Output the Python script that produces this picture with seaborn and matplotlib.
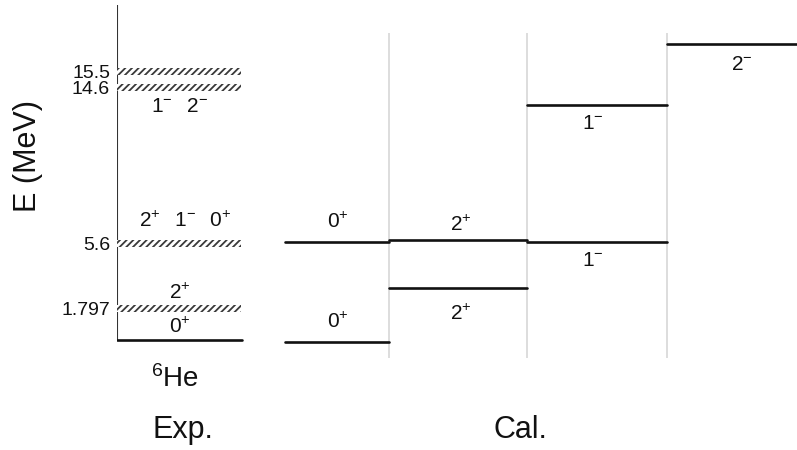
import matplotlib
matplotlib.use("Agg")
import matplotlib.pyplot as plt
import numpy as np
import pandas as pd
import seaborn as sns

# ---- level data (MeV) ----
exp_energy = [0.0, 1.797, 5.6, 14.6, 15.5]
exp_label = [r"$\mathregular{0^{+}}$", r"$\mathregular{2^{+}}$",
             r"$\mathregular{2^{+}\;\;\;1^{-}\;\;\;0^{+}}$",
             r"$\mathregular{1^{-}\;\;\;2^{-}}$", ""]
exp_resonance = [False, True, True, True, True]
exp_ticks = ["1.797", "5.6", "14.6", "15.5"]

calc_column = ["A", "A", "B", "B", "C", "C", "D"]
calc_energy = [-0.12, 5.66, 5.78, 3.0, 13.58, 5.66, 17.1]
calc_label = [r"$\mathregular{0^{+}}$", r"$\mathregular{0^{+}}$",
              r"$\mathregular{2^{+}}$", r"$\mathregular{2^{+}}$",
              r"$\mathregular{1^{-}}$", r"$\mathregular{1^{-}}$",
              r"$\mathregular{2^{-}}$"]

# ---- layout ----
W, H = 797, 450
PX_PER_MEV = 17.3
Y_ZERO = 340          # pixel row of E = 0
def e_of(ypx):
    return (Y_ZERO - ypx) / PX_PER_MEV

col_span = {"E": (0, 125), "A": (168, 272), "B": (272, 410),
            "C": (410, 550), "D": (550, 680)}
col_center = {"E": 63, "A": 221, "B": 344, "C": 476, "D": 625}
# label offsets in pixels (positive = above the level)
exp_label_dy = [13, 16, 22, -19, 0]
exp_label_dx = [0, 0, 5, 0, 0]
calc_label_dy = [20, 20, 15, -26, -18, -18, -20]

sns.set_theme(style="white")
plt.rcParams["font.family"] = ["Liberation Sans", "DejaVu Sans"]
plt.rcParams["mathtext.fontset"] = "custom"
plt.rcParams["mathtext.rm"] = "Liberation Sans"
plt.rcParams["mathtext.it"] = "Liberation Sans:italic"
plt.rcParams["mathtext.bf"] = "Liberation Sans:bold"
plt.rcParams["hatch.linewidth"] = 1.3

fig = plt.figure(figsize=(W / 100, H / 100), dpi=100)
ax = fig.add_axes([117 / W, 1 - 360 / H, 680 / W, 355 / H])
ax.set_xlim(0, 680)
ax.set_ylim(e_of(360), e_of(5))
for s in ax.spines.values():
    s.set_visible(False)

# column separators
ax.vlines([col_span["A"][1], col_span["B"][1], col_span["C"][1]],
          e_of(358), e_of(33), color="#dadada", lw=1.3, zorder=0)

# energy axis
ax.vlines(0, 0, e_of(5), color="#333333", lw=1.5, zorder=2)

# sharp levels drawn as line segments
rows = []
k = 0
for e, res in zip(exp_energy, exp_resonance):
    if not res:
        x0, x1 = col_span["E"]
        rows += [dict(x=x0, E=e, lev=k), dict(x=x1, E=e, lev=k)]
        k += 1
for c, e in zip(calc_column, calc_energy):
    x0, x1 = col_span[c]
    rows += [dict(x=x0, E=e, lev=k), dict(x=x1, E=e, lev=k)]
    k += 1
seg = pd.DataFrame(rows)
sns.lineplot(data=seg, x="x", y="E", units="lev", estimator=None,
             sort=False, color="#111111", lw=1.9, ax=ax, zorder=4)

# resonances drawn as hatched bands
band = 7 / PX_PER_MEV
for e, res in zip(exp_energy, exp_resonance):
    if res:
        ax.bar(-1, band, width=125, bottom=e - band / 2, align="edge",
               color="white", hatch="/////", edgecolor="#3a3a3a",
               linewidth=0, zorder=5)

# spin-parity labels
for e, lab, dy, dx in zip(exp_energy, exp_label, exp_label_dy, exp_label_dx):
    if lab:
        ax.annotate(lab, xy=(col_center["E"], e), xytext=(dx, dy),
                    textcoords="offset pixels", ha="center", va="center",
                    fontsize=15, color="#111111")
for c, e, lab, dy in zip(calc_column, calc_energy, calc_label, calc_label_dy):
    ax.annotate(lab, xy=(col_center[c], e), xytext=(0, dy),
                textcoords="offset pixels", ha="center", va="center",
                fontsize=15, color="#111111")

ax.set_xticks([])
ax.set_yticks(exp_energy[1:])
ax.set_yticklabels(exp_ticks)
ax.tick_params(axis="y", length=0, pad=5, labelsize=14, labelcolor="#111111")
ax.set_xlabel("")
ax.set_ylabel("")

fig.text(28 / W, 1 - 156 / H, "E (MeV)", rotation=90, ha="center",
         va="center", fontsize=22, color="#111111")
fig.text(175 / W, 1 - 379 / H, r"$\mathregular{^{6}He}$", ha="center",
         va="center", fontsize=20, color="#111111")
fig.text(183 / W, 1 - 430 / H, "Exp.", ha="center", va="center",
         fontsize=22, color="#111111")
fig.text(520 / W, 1 - 430 / H, "Cal.", ha="center", va="center",
         fontsize=22, color="#111111")

fig.savefig("out.png", dpi=100)
